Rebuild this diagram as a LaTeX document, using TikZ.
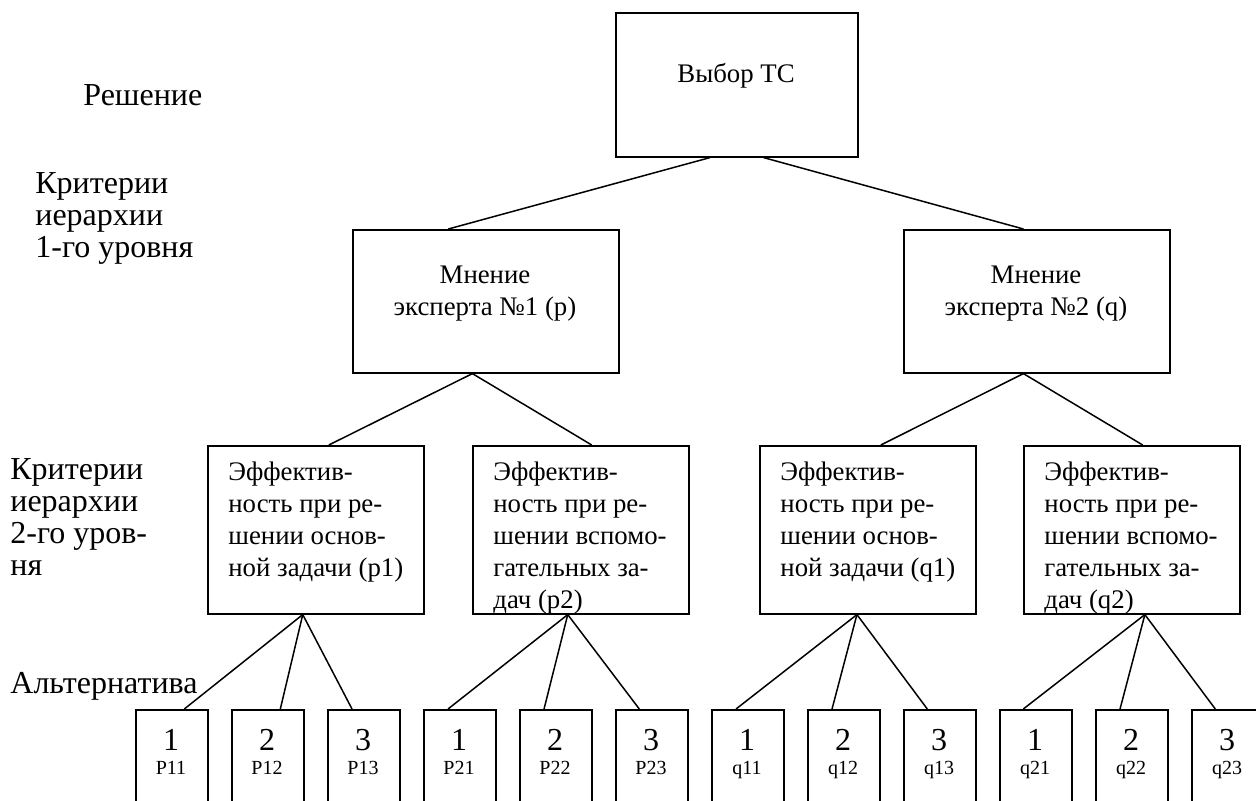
\documentclass[tikz,border=0pt]{standalone}
\usepackage{fontspec}
\setmainfont{Liberation Serif}
\usetikzlibrary{calc}

\begin{document}
\begin{tikzpicture}[x=0.5pt,y=-0.5pt,
box/.style={
rectangle,
draw,
line width=0.8pt,
inner sep=0pt
},
decbox/.style={box, minimum width=121pt, minimum height=72pt},
crit/.style={box, minimum width=133pt, minimum height=71.5pt},
subcrit/.style={box, minimum width=108pt, minimum height=84pt},
alt/.style={box, minimum width=36pt, minimum height=62pt},
txt/.style={inner sep=0pt, font=\fontsize{13.4}{16}\selectfont},
lvl/.style={inner sep=0pt, align=left, anchor=base west, font=\fontsize{16}{16}\selectfont},
num/.style={inner sep=0pt, anchor=base, font=\fontsize{16}{18}\selectfont},
idx/.style={inner sep=0pt, anchor=base, font=\fontsize{10}{12}\selectfont},
link/.style={line width=0.75pt},
]
\useasboundingbox (0,0) rectangle (1256,801);

% level captions (base = last line)
\node[lvl] (lsol) at (83,106) {Решение};
\node[lvl] (lcrit1) at (35,258) {Критерии\\иерархии\\1-го уровня};
\node[lvl] (lcrit2) at (10,575) {Критерии\\иерархии\\2-го уров-\\ня};
\node[lvl] (lalt) at (10,693) {Альтернатива};

% decision
\node (choice) [decbox, anchor=north west] at (615,12) {};
\node (choicet) [txt, anchor=base] at (736,83) {Выбор ТС};

% experts
\node (exp1) [crit, anchor=north west] at (352,229) {};
\node (exp2) [crit, anchor=north west] at (903,229) {};
\node (exp1t) [txt, align=center, anchor=base] at (485,316) {Мнение\\эксперта №1 (p)};
\node (exp2t) [txt, align=center, anchor=base] at (1036,316) {Мнение\\эксперта №2 (q)};

% second level criteria
\node (eff1) [subcrit, anchor=north west] at (207,445) {};
\node (eff2) [subcrit, anchor=north west] at (472,445) {};
\node (eff3) [subcrit, anchor=north west] at (759,445) {};
\node (eff4) [subcrit, anchor=north west] at (1023,445) {};
\node (eff1t) [txt, align=left, anchor=base west] at (228,576) {Эффектив-\\ность при ре-\\шении основ-\\ной задачи (p1)};
\node (eff3t) [txt, align=left, anchor=base west] at (780,576) {Эффектив-\\ность при ре-\\шении основ-\\ной задачи (q1)};
\begin{scope}
\clip (eff2.north west) rectangle (eff2.south east);
\node (eff2t) [txt, align=left, anchor=base west] at (493,608) {Эффектив-\\ность при ре-\\шении вспомо-\\гательных за-\\дач (p2)};
\end{scope}
\begin{scope}
\clip (eff4.north west) rectangle (eff4.south east);
\node (eff4t) [txt, align=left, anchor=base west] at (1044,608) {Эффектив-\\ность при ре-\\шении вспомо-\\гательных за-\\дач (q2)};
\end{scope}

% alternatives
\foreach \i/\n/\l in {0/1/P11,1/2/P12,2/3/P13,3/1/P21,4/2/P22,5/3/P23,
6/1/q11,7/2/q12,8/3/q13,9/1/q21,10/2/q22,11/3/q23} {
\node (a\i) [alt, anchor=north west] at ({135+96*\i},709) {};
\node (n\i) [num] at ({171+96*\i},750) {\n};
\node (l\i) [idx] at ({171+96*\i},774) {\l};
}

% connectors
\draw[link] ($(choice.south west)!0.39!(choice.south east)$) -- ($(exp1.north west)!0.36!(exp1.north east)$);
\draw[link] ($(choice.south west)!0.61!(choice.south east)$) -- ($(exp2.north west)!0.45!(exp2.north east)$);
\draw[link] ($(exp1.south west)!0.45!(exp1.south east)$) -- ($(eff1.north west)!0.56!(eff1.north east)$);
\draw[link] ($(exp1.south west)!0.45!(exp1.south east)$) -- ($(eff2.north west)!0.55!(eff2.north east)$);
\draw[link] ($(exp2.south west)!0.45!(exp2.south east)$) -- ($(eff3.north west)!0.56!(eff3.north east)$);
\draw[link] ($(exp2.south west)!0.45!(exp2.south east)$) -- ($(eff4.north west)!0.55!(eff4.north east)$);
\foreach \e/\f/\i/\g in {eff1/0.44/0/0.67,eff1/0.44/1/0.67,eff1/0.44/2/0.34,
eff2/0.44/3/0.34,eff2/0.44/4/0.34,eff2/0.44/5/0.33,
eff3/0.45/6/0.34,eff3/0.45/7/0.34,eff3/0.45/8/0.33,
eff4/0.56/9/0.33,eff4/0.56/10/0.34,eff4/0.56/11/0.33}
\draw[link] ($(\e.south west)!\f!(\e.south east)$) -- ($(a\i.north west)!\g!(a\i.north east)$);
\end{tikzpicture}
\end{document}
